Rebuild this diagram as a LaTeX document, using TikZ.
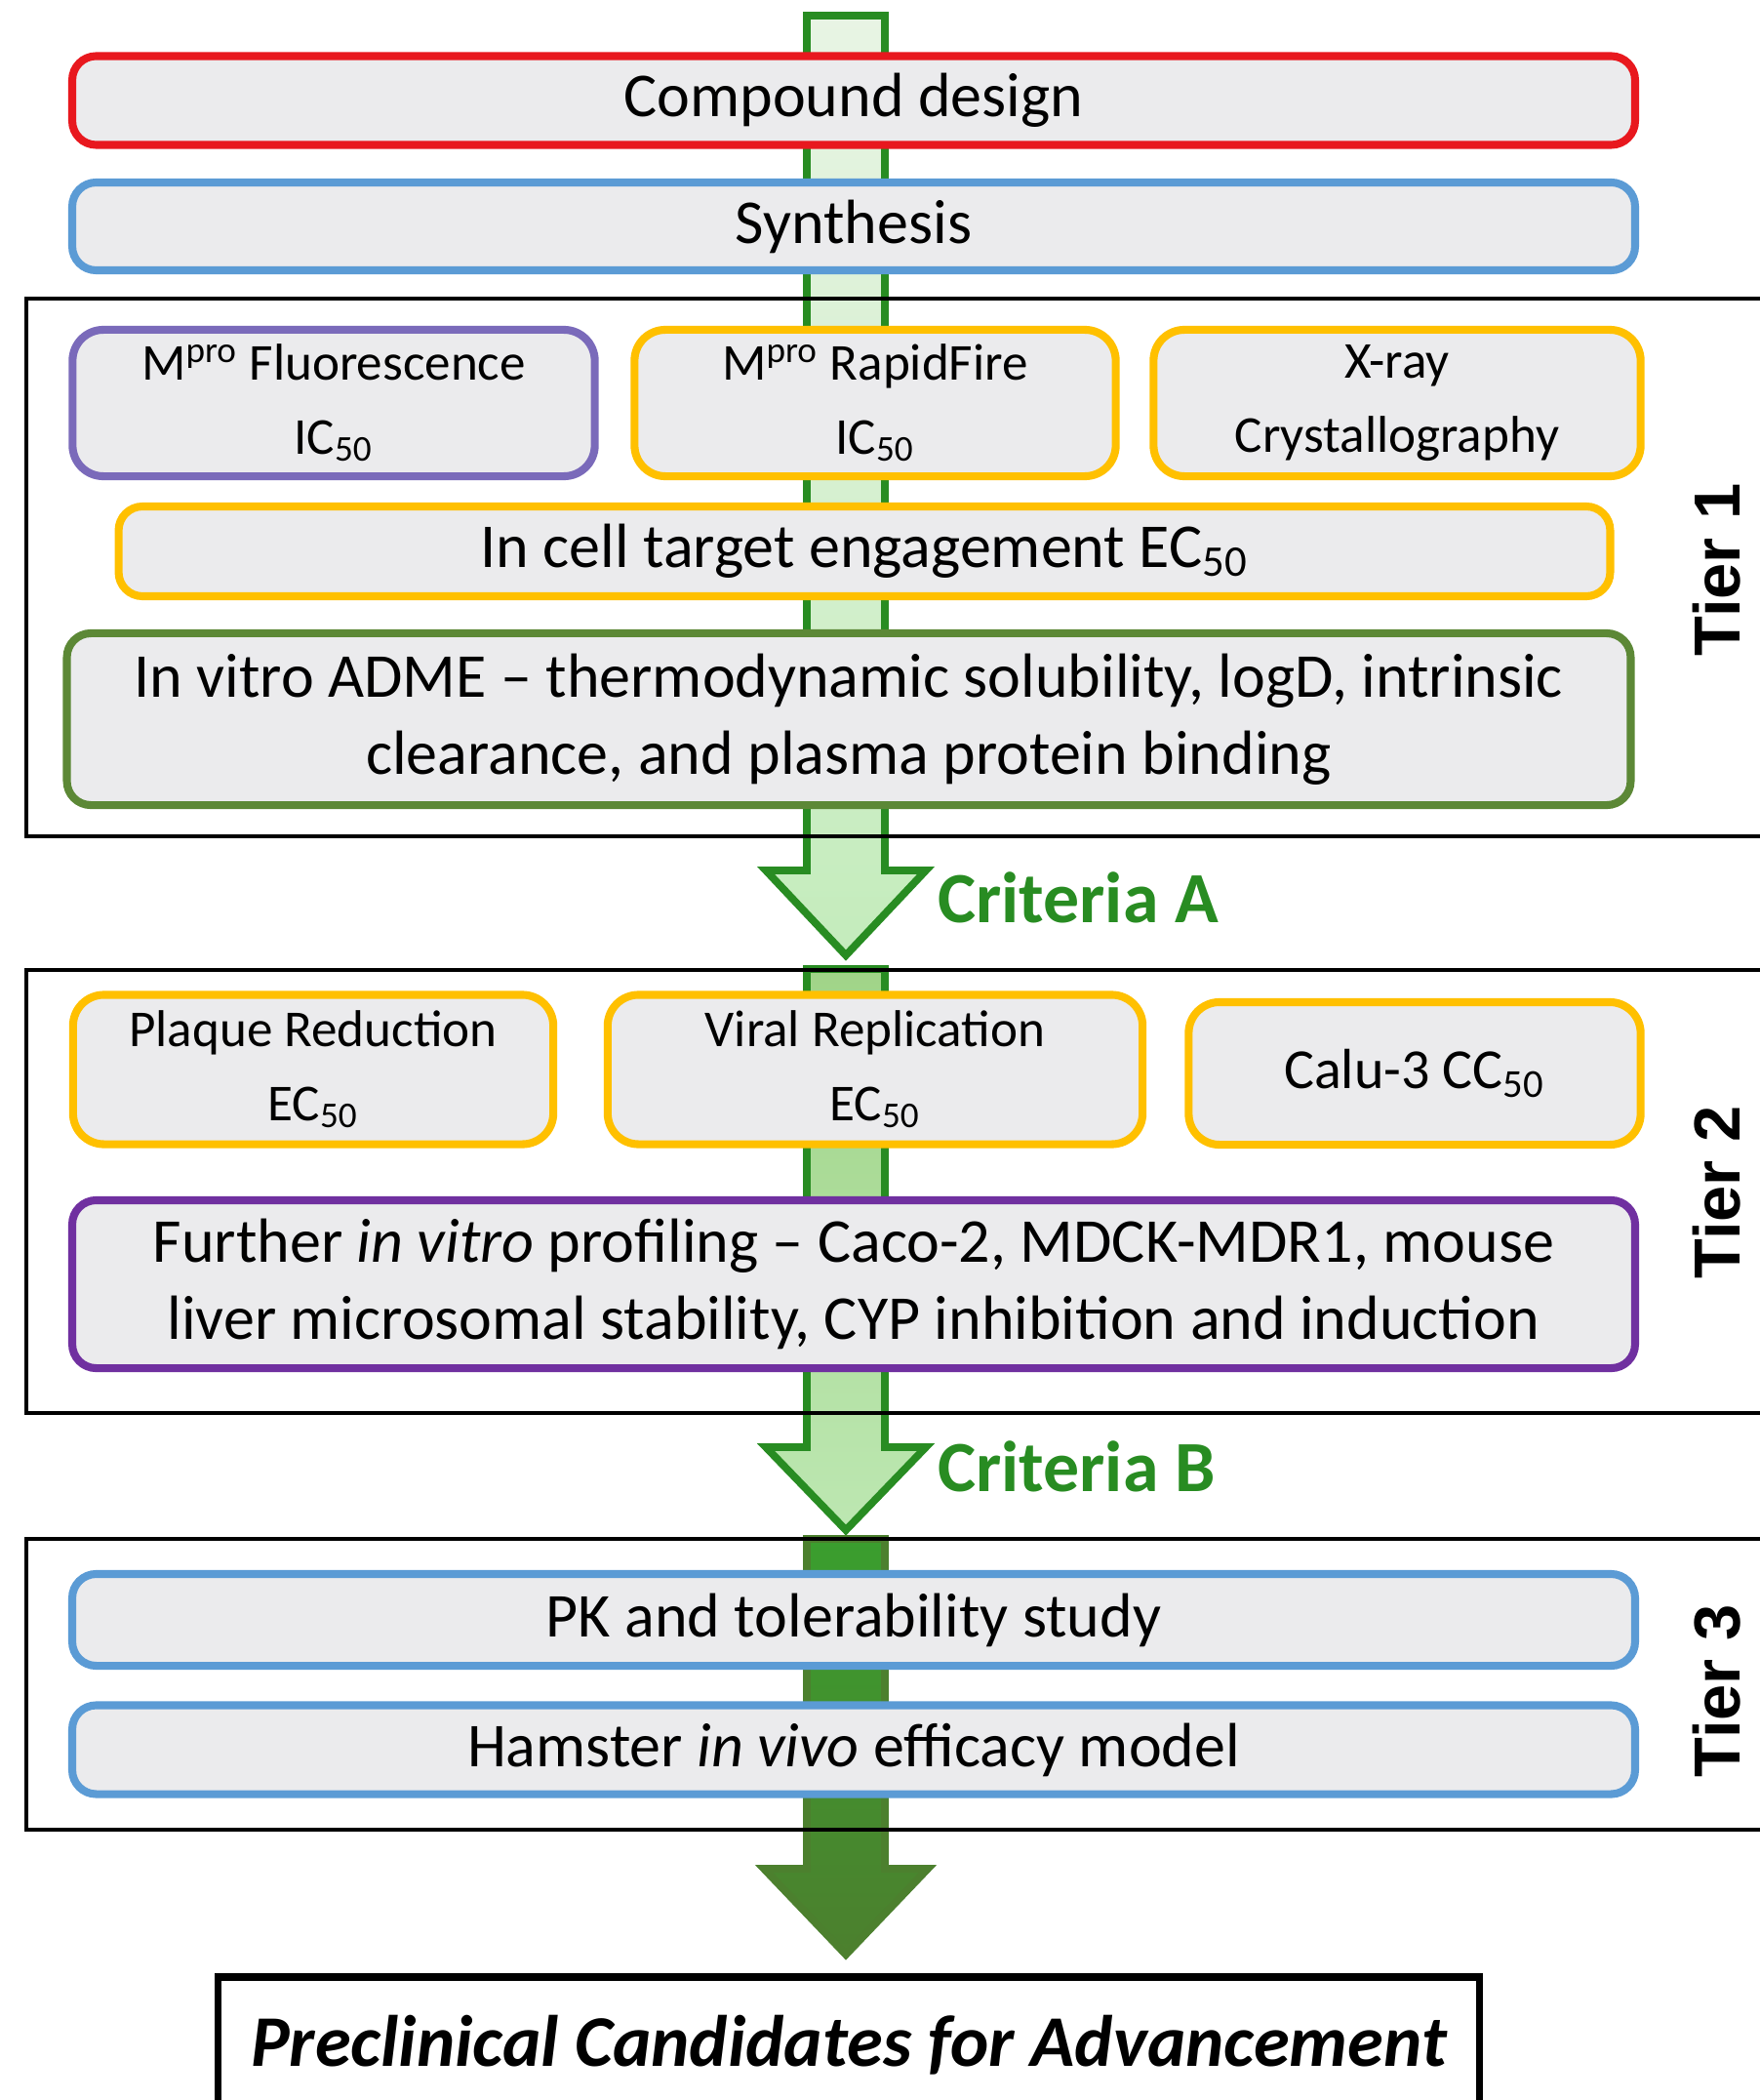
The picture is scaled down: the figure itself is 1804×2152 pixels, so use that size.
\documentclass[tikz,border=0pt]{standalone}
\usepackage{fontspec}
\setmainfont{Carlito}
\newfontfamily\tierfont{Liberation Sans}
\usetikzlibrary{positioning}

\definecolor{boxfill}{RGB}{235,235,237}
\definecolor{designred}{RGB}{232,24,30}
\definecolor{synthblue}{RGB}{91,155,213}
\definecolor{assaylilac}{RGB}{122,106,186}
\definecolor{assaygold}{RGB}{255,192,0}
\definecolor{admegreen}{RGB}{92,136,54}
\definecolor{profileviolet}{RGB}{112,48,160}
\definecolor{critgreen}{RGB}{40,140,34}
\definecolor{flowpale}{RGB}{232,244,228}
\definecolor{flowlight}{RGB}{196,236,188}
\definecolor{flowmid}{RGB}{160,212,136}
\definecolor{flowbright}{RGB}{58,158,46}
\definecolor{flowolive}{RGB}{76,128,46}

\begin{document}
\begin{tikzpicture}[
                x = 0.01cm, y = -0.01cm,
                stepbox/.style = {
                    rectangle,
                    rounded corners = 7pt,
                    line width      = 2.3pt,
                    fill            = boxfill,
                    align           = center,
                    inner sep       = 0pt,
                    font            = \fontsize{18.2}{22.5}\selectfont
                },
                assaybox/.style = {
                    stepbox,
                    rounded corners = 9pt,
                    font            = \fontsize{15.1}{21.5}\selectfont
                },
                tierframe/.style = {draw = black, line width = 1.2pt},
                tierlabel/.style = {rotate = 90, font = \tierfont\bfseries\fontsize{19}{22}\selectfont},
                critlabel/.style = {anchor = base west, text = critgreen, font = \bfseries\fontsize{21}{24}\selectfont},
                flowarrow/.style = {line width = 2.2pt, line join = miter}
            ]

                \useasboundingbox (0, 0) rectangle (1804, 2152);

                % flow arrows behind everything
                \draw[flowarrow, draw = critgreen, top color = flowpale, bottom color = flowlight]
                    (827, 16) -- (907, 16) -- (907, 892) -- (949, 892) -- (867, 979)
                    -- (785, 892) -- (827, 892) -- cycle;
                \draw[flowarrow, draw = critgreen, top color = flowmid, bottom color = flowlight!80!flowmid]
                    (827, 993) -- (907, 993) -- (907, 1483) -- (949, 1483) -- (867, 1568)
                    -- (785, 1483) -- (827, 1483) -- cycle;
                \draw[flowarrow, draw = flowolive, top color = flowbright, bottom color = flowolive]
                    (827, 1577) -- (907, 1577) -- (907, 1915) -- (951, 1915) -- (867, 2003)
                    -- (783, 1915) -- (827, 1915) -- cycle;

                % tier frames
                \draw[tierframe] (27, 306) rectangle (1840, 857);
                \draw[tierframe] (27, 994) rectangle (1840, 1448);
                \draw[tierframe] (27, 1577) rectangle (1840, 1875);

                \node[stepbox, draw = designred, minimum width = 16.01cm, minimum height = 0.91cm] (design) at (875, 103) {Compound design};
                \node[stepbox, draw = synthblue, minimum width = 16.01cm, minimum height = 0.90cm] (synth) at (875, 232) {Synthesis};

                % tier 1
                \node[assaybox, draw = assaylilac, minimum width = 5.35cm, minimum height = 1.50cm] (fluor) at (342, 413) {M\textsuperscript{pro} Fluorescence\\IC\textsubscript{50}};
                \node[assaybox, draw = assaygold, minimum width = 4.93cm, minimum height = 1.50cm] (rapid) at (897, 413) {M\textsuperscript{pro} RapidFire\\IC\textsubscript{50}};
                \node[assaybox, draw = assaygold, minimum width = 4.99cm, minimum height = 1.50cm] (xray) at (1432, 413) {X-ray\\Crystallography};
                \node[stepbox, draw = assaygold, minimum width = 15.28cm, minimum height = 0.92cm] (incell) at (886, 565) {In cell target engagement EC\textsubscript{50}};
                \node[stepbox, draw = admegreen, minimum width = 16.02cm, minimum height = 1.76cm] (adme) at (870, 737) {In vitro ADME -- thermodynamic solubility, logD, intrinsic\\clearance, and plasma protein binding};
                \node[tierlabel] (tierA) at (1760, 584) {Tier 1};

                \node[critlabel] (critA) at (949, 945) {Criteria A};

                % tier 2
                \node[assaybox, draw = assaygold, minimum width = 4.92cm, minimum height = 1.53cm] (plaque) at (321, 1096) {Plaque Reduction\\EC\textsubscript{50}};
                \node[assaybox, draw = assaygold, minimum width = 5.48cm, minimum height = 1.53cm] (viral) at (897, 1096) {Viral Replication\\EC\textsubscript{50}};
                \node[assaybox, draw = assaygold, minimum width = 4.63cm, minimum height = 1.46cm,
                      font = \fontsize{16.5}{21.5}\selectfont] (calu) at (1450, 1100) {Calu-3 CC\textsubscript{50}};
                \node[stepbox, draw = profileviolet, minimum width = 16.01cm, minimum height = 1.72cm] (profile) at (875, 1316) {Further \textit{in vitro} profiling -- Caco-2, MDCK-MDR1, mouse\\liver microsomal stability, CYP inhibition and induction};
                \node[tierlabel] (tierB) at (1760, 1222) {Tier 2};

                \node[critlabel] (critB) at (949, 1528) {Criteria B};

                % tier 3
                \node[stepbox, draw = synthblue, minimum width = 16.01cm, minimum height = 0.94cm] (pk) at (875, 1660) {PK and tolerability study};
                \node[stepbox, draw = synthblue, minimum width = 16.01cm, minimum height = 0.91cm] (hamster) at (875, 1793) {Hamster \textit{in vivo} efficacy model};
                \node[tierlabel] (tierC) at (1760, 1733) {Tier 3};

                \node[draw = black, line width = 2pt, fill = white, minimum width = 12.92cm, minimum height = 1.40cm,
                      font = \bfseries\itshape\fontsize{21.2}{26}\selectfont] (candidates) at (870, 2096) {Preclinical Candidates for Advancement};
            \end{tikzpicture}
\end{document}
